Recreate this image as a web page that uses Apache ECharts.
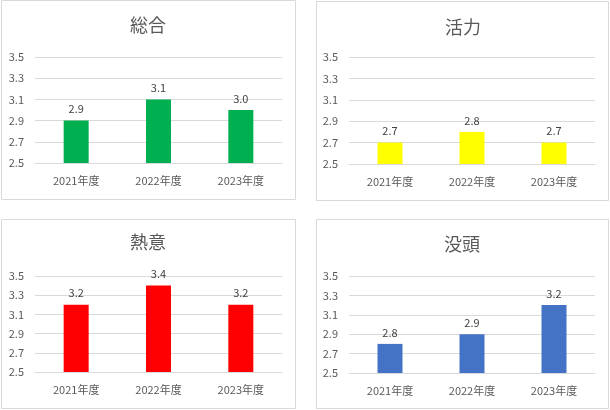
<!DOCTYPE html>
<html><head><meta charset="utf-8">
<script src="https://cdn.jsdelivr.net/npm/echarts@6/dist/echarts.min.js"></script>
<style>html,body{margin:0;padding:0;background:#fff;}#c{width:610px;height:410px;}</style>
</head><body><div id="c"></div>
<script>
const categories = ['2021年度', '2022年度', '2023年度'];
const titles = ['総合', '活力', '熱意', '没頭'];
const sogo = [2.9, 3.1, 3.0];
const katsuryoku = [2.7, 2.8, 2.7];
const netsui = [3.2, 3.4, 3.2];
const botto = [2.8, 2.9, 3.2];
const colors = ['#00B050', '#FFFF00', '#FF0000', '#4472C4'];
const seriesData = [sogo, katsuryoku, netsui, botto];

const FONT = '"Noto Sans CJK JP", "Noto Sans", sans-serif';
const grids = [
  {left: 35, top: 57, width: 247, height: 106},
  {left: 349, top: 57, width: 246, height: 107},
  {left: 35, top: 276, width: 247, height: 96},
  {left: 349, top: 276, width: 246, height: 97}
];
const boxes = [
  {x: 1.5, y: 0.5, w: 294, h: 199},
  {x: 316.5, y: 1.5, w: 292, h: 199},
  {x: 1.5, y: 219.5, w: 294, h: 189},
  {x: 316.5, y: 219.5, w: 292, h: 189}
];
const titlePos = [[148, 25], [463, 27], [148, 242], [462, 244]];

const chart = echarts.init(document.getElementById('c'));
const graphic = [];
boxes.forEach(b => graphic.push({type: 'rect', shape: {x: b.x, y: b.y, width: b.w, height: b.h},
  style: {fill: 'none', stroke: '#D9D9D9', lineWidth: 1}, silent: true}));
titles.forEach((t, i) => graphic.push({type: 'text', x: titlePos[i][0], y: titlePos[i][1],
  style: {text: t, fill: '#595959', font: '18px ' + FONT, textAlign: 'center', textVerticalAlign: 'middle'}}));

chart.setOption({
  animation: false,
  textStyle: {fontFamily: FONT},
  graphic: graphic,
  grid: grids,
  xAxis: grids.map((g, i) => ({
    type: 'category', gridIndex: i, data: categories,
    axisLine: {lineStyle: {color: '#D9D9D9'}}, axisTick: {show: false},
    axisLabel: {color: '#595959', fontSize: 11, margin: 12, fontFamily: FONT}
  })),
  yAxis: grids.map((g, i) => ({
    type: 'value', gridIndex: i, min: 2.5, max: 3.5, interval: 0.2,
    axisLine: {show: false}, axisTick: {show: false},
    splitLine: {lineStyle: {color: '#D9D9D9'}},
    axisLabel: {color: '#595959', fontSize: 11, margin: 11, fontFamily: FONT,
      formatter: v => v.toFixed(1)}
  })),
  series: seriesData.map((d, i) => ({
    type: 'bar', xAxisIndex: i, yAxisIndex: i, data: d, barWidth: 25,
    itemStyle: {color: colors[i]},
    label: {show: true, position: 'top', distance: 6, color: '#404040', fontSize: 11,
      fontFamily: FONT, formatter: p => p.value.toFixed(1)}
  }))
});
</script></body></html>
